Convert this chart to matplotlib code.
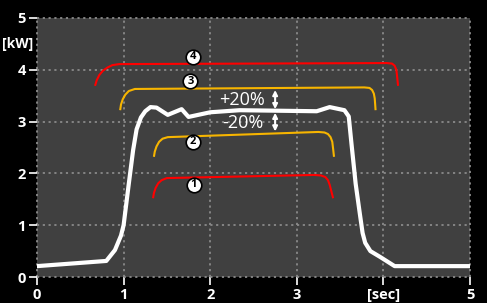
import matplotlib.pyplot as plt

plt.rcParams["font.family"] = ["Open Sans", "DejaVu Sans"]

# measured power (white)
power_x = [0.0, 0.80, 0.90, 0.97, 1.00, 1.06, 1.11, 1.15, 1.20, 1.25, 1.31, 1.38, 1.51, 1.67, 1.75, 2.00,
           2.34, 3.23, 3.38, 3.55, 3.60, 3.63, 3.68, 3.73, 3.76, 3.79, 3.85, 3.96, 4.13, 5.0]
power_y = [0.21, 0.31, 0.52, 0.80, 1.00, 1.80, 2.45, 2.85, 3.08, 3.20, 3.28, 3.27, 3.13, 3.24, 3.09, 3.18,
           3.22, 3.20, 3.28, 3.22, 3.10, 2.60, 1.80, 1.20, 0.85, 0.66, 0.50, 0.39, 0.21, 0.21]

# limit bands (1..4)
band1_x = [1.34, 1.35, 1.37, 1.40, 1.44, 1.50, 3.20, 3.28, 3.33, 3.36, 3.38, 3.40, 3.42]
band1_y = [1.52, 1.62, 1.72, 1.81, 1.87, 1.91, 1.97, 1.96, 1.93, 1.87, 1.78, 1.65, 1.52]
band2_x = [1.35, 1.36, 1.38, 1.41, 1.45, 1.51, 3.25, 3.32, 3.36, 3.39, 3.41, 3.42, 3.43]
band2_y = [2.32, 2.42, 2.52, 2.61, 2.67, 2.70, 2.80, 2.79, 2.76, 2.70, 2.61, 2.47, 2.32]
band3_x = [0.96, 0.97, 0.99, 1.02, 1.06, 1.13, 3.78, 3.84, 3.87, 3.89, 3.90, 3.905, 3.91]
band3_y = [3.22, 3.33, 3.43, 3.52, 3.59, 3.63, 3.66, 3.65, 3.61, 3.54, 3.45, 3.34, 3.22]
band4_x = [0.67, 0.69, 0.72, 0.76, 0.81, 0.87, 0.95, 4.04, 4.10, 4.13, 4.15, 4.16, 4.17]
band4_y = [3.69, 3.80, 3.90, 3.98, 4.04, 4.09, 4.11, 4.13, 4.12, 4.08, 4.00, 3.85, 3.69]

labels = ["1", "2", "3", "4"]
label_x = [1.81, 1.80, 1.77, 1.80]
label_y = [1.78, 2.61, 3.78, 4.25]

red = "#ff0000"
yellow = "#f7b500"

fig = plt.figure(figsize=(4.87, 3.03), dpi=100, facecolor="black")
ax = fig.add_axes([0.076, 0.0858, 0.889, 0.8548])
ax.set_facecolor("#404040")

ax.plot(band4_x, band4_y, color=red, lw=1.5, solid_capstyle="butt")
ax.plot(band1_x, band1_y, color=red, lw=1.5, solid_capstyle="butt")
ax.plot(band3_x, band3_y, color=yellow, lw=1.5, solid_capstyle="butt")
ax.plot(band2_x, band2_y, color=yellow, lw=1.5, solid_capstyle="butt")
ax.plot(power_x, power_y, color="white", lw=3, solid_joinstyle="round")

for t, x, y in zip(labels, label_x, label_y):
    ax.plot(x, y, "o", ms=10.5, mfc="white", mec="black", mew=1.2, zorder=5)
    ax.text(x, y, t, ha="center", va="center", fontsize=8, fontweight="bold",
            color="black", zorder=6)

ax.text(2.37, 3.42, "+20%", color="white", fontsize=13, ha="center", va="center")
ax.text(2.38, 2.97, "-20%", color="white", fontsize=13, ha="center", va="center")
arrow = dict(arrowstyle="<|-|>", color="white", lw=1.5, mutation_scale=7, shrinkA=0, shrinkB=0)
ax.annotate("", xy=(2.75, 3.61), xytext=(2.75, 3.24), arrowprops=arrow)
ax.annotate("", xy=(2.75, 3.17), xytext=(2.75, 2.81), arrowprops=arrow)

ax.set_xlim(0, 5)
ax.set_ylim(0, 5)
ax.set_xticks([0, 1, 2, 3, 4, 5])
ax.set_xticklabels(["0", "1", "2", "3", "[sec]", "5"])
ax.set_yticks([0, 1, 2, 3, 4, 5])
for s in ax.spines.values():
    s.set_visible(False)
ax.tick_params(colors="white", length=6, width=1.2, labelsize=10.5, pad=2)
for lab in ax.get_xticklabels() + ax.get_yticklabels():
    lab.set_fontweight("bold")
ax.grid(True, color="#8a8a8a", ls=(0, (1.2, 2)), lw=1.3)
for g in ax.get_xgridlines() + ax.get_ygridlines():
    g.set_clip_on(False)
ax.set_axisbelow(True)
ax.text(-0.045, 4.5, "[kW]", color="white", fontsize=10, fontweight="bold",
        ha="right", va="center")

fig.savefig("out.png", dpi=100, facecolor="black")
